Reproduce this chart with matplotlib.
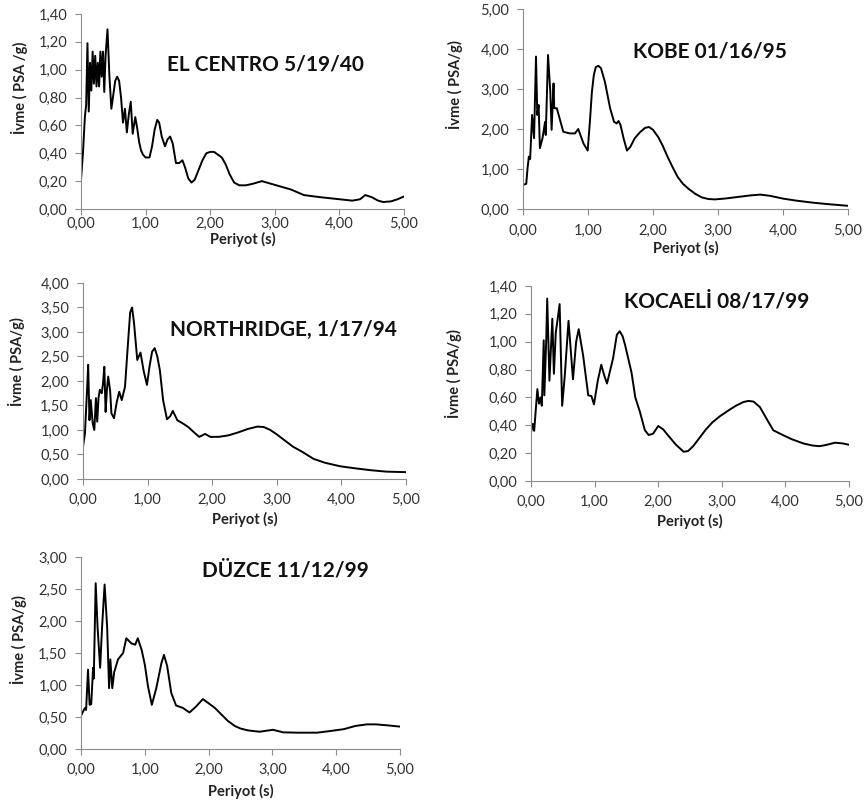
import matplotlib
matplotlib.use("Agg")
import matplotlib.pyplot as plt
from matplotlib.ticker import FuncFormatter, MultipleLocator

plt.rcParams['font.family'] = ['Lato', 'DejaVu Sans']

# El Centro 5/19/40
elc_t = [0.00, 0.03, 0.06, 0.08, 0.10, 0.12, 0.14, 0.16, 0.18, 0.20,
         0.22, 0.24, 0.26, 0.28, 0.30, 0.32, 0.34, 0.36, 0.38, 0.41,
         0.44, 0.47, 0.50, 0.53, 0.56, 0.59, 0.62, 0.65, 0.68, 0.71,
         0.74, 0.77, 0.80, 0.84, 0.87, 0.90, 0.93, 0.96, 1.00, 1.06,
         1.10, 1.14, 1.18, 1.21, 1.25, 1.30, 1.34, 1.38, 1.42, 1.47,
         1.52, 1.57, 1.61, 1.66, 1.71, 1.76, 1.82, 1.88, 1.94, 2.00,
         2.06, 2.12, 2.18, 2.24, 2.30, 2.37, 2.45, 2.55, 2.65, 2.80,
         2.95, 3.10, 3.25, 3.45, 3.70, 4.00, 4.20, 4.32, 4.40, 4.50,
         4.60, 4.68, 4.80, 4.90, 5.00]
elc_a = [0.21, 0.40, 0.66, 0.75, 1.19, 0.70, 1.05, 0.85, 1.13, 0.90,
         1.10, 0.88, 1.05, 0.88, 1.13, 0.95, 1.13, 0.84, 1.10, 1.29,
         0.95, 0.72, 0.82, 0.92, 0.95, 0.92, 0.80, 0.62, 0.72, 0.55,
         0.68, 0.77, 0.54, 0.66, 0.58, 0.48, 0.42, 0.39, 0.37, 0.37,
         0.45, 0.57, 0.64, 0.62, 0.52, 0.45, 0.50, 0.52, 0.47, 0.33,
         0.33, 0.35, 0.30, 0.22, 0.19, 0.21, 0.28, 0.35, 0.40, 0.41,
         0.41, 0.39, 0.37, 0.32, 0.25, 0.19, 0.17, 0.17, 0.18, 0.20,
         0.18, 0.16, 0.14, 0.10, 0.085, 0.07, 0.06, 0.07, 0.10, 0.085,
         0.06, 0.05, 0.055, 0.07, 0.09]

# Kobe 01/16/95
kobe_t = [0.00, 0.05, 0.07, 0.09, 0.11, 0.14, 0.17, 0.20, 0.22, 0.24,
          0.26, 0.30, 0.34, 0.35, 0.385, 0.42, 0.44, 0.47, 0.48, 0.52,
          0.62, 0.72, 0.80, 0.85, 0.93, 0.995, 1.03, 1.06, 1.09, 1.12,
          1.16, 1.20, 1.26, 1.34, 1.40, 1.44, 1.47, 1.50, 1.55, 1.60,
          1.65, 1.72, 1.80, 1.88, 1.94, 2.00, 2.08, 2.15, 2.22, 2.30,
          2.38, 2.46, 2.55, 2.65, 2.75, 2.85, 2.95, 3.10, 3.30, 3.50,
          3.65, 3.80, 4.00, 4.20, 4.45, 4.70, 5.00]
kobe_a = [0.60, 0.63, 1.02, 1.31, 1.25, 2.35, 1.77, 3.81, 2.35, 2.60,
          1.52, 1.77, 2.18, 1.85, 3.85, 2.93, 1.98, 3.14, 2.52, 2.52,
          1.93, 1.89, 1.89, 2.00, 1.64, 1.46, 2.20, 2.93, 3.35, 3.55,
          3.58, 3.52, 3.18, 2.52, 2.18, 2.14, 2.20, 2.10, 1.75, 1.46,
          1.55, 1.77, 1.92, 2.03, 2.05, 1.98, 1.80, 1.58, 1.32, 1.05,
          0.80, 0.63, 0.50, 0.38, 0.29, 0.25, 0.24, 0.26, 0.30, 0.34,
          0.36, 0.33, 0.26, 0.21, 0.16, 0.12, 0.08]

# Northridge 1/17/94
nor_t = [0.00, 0.03, 0.07, 0.08, 0.10, 0.12, 0.15, 0.175, 0.20, 0.22,
         0.24, 0.26, 0.29, 0.31, 0.33, 0.35, 0.37, 0.39, 0.42, 0.44,
         0.48, 0.52, 0.56, 0.60, 0.65, 0.70, 0.73, 0.76, 0.79, 0.84,
         0.89, 0.94, 0.99, 1.03, 1.07, 1.11, 1.15, 1.19, 1.24, 1.30,
         1.35, 1.39, 1.46, 1.55, 1.63, 1.72, 1.80, 1.89, 1.97, 2.10,
         2.25, 2.40, 2.55, 2.70, 2.80, 2.90, 3.00, 3.10, 3.25, 3.40,
         3.57, 3.75, 3.98, 4.20, 4.45, 4.70, 5.00]
nor_a = [0.66, 0.93, 2.02, 2.33, 1.20, 1.61, 1.14, 1.00, 1.65, 1.17,
         1.65, 1.82, 1.75, 1.95, 2.29, 1.37, 1.82, 2.09, 1.80, 1.34,
         1.24, 1.55, 1.78, 1.61, 1.88, 2.84, 3.40, 3.50, 3.18, 2.43,
         2.58, 2.20, 1.92, 2.30, 2.60, 2.67, 2.50, 2.22, 1.61, 1.22,
         1.28, 1.39, 1.20, 1.13, 1.06, 0.95, 0.86, 0.92, 0.86, 0.86,
         0.89, 0.95, 1.02, 1.07, 1.06, 1.00, 0.91, 0.81, 0.66, 0.55,
         0.41, 0.33, 0.26, 0.22, 0.18, 0.15, 0.14]

# Kocaeli 08/17/99
koc_t = [0.00, 0.03, 0.05, 0.10, 0.125, 0.15, 0.17, 0.20, 0.21, 0.24,
         0.255, 0.29, 0.335, 0.36, 0.39, 0.42, 0.45, 0.49, 0.53, 0.59,
         0.66, 0.71, 0.75, 0.82, 0.90, 0.95, 0.99, 1.05, 1.105, 1.15,
         1.195, 1.29, 1.35, 1.395, 1.44, 1.48, 1.58, 1.64, 1.71, 1.79,
         1.85, 1.92, 2.00, 2.08, 2.15, 2.28, 2.40, 2.47, 2.55, 2.65,
         2.75, 2.85, 2.97, 3.10, 3.22, 3.34, 3.42, 3.50, 3.60, 3.70,
         3.81, 3.96, 4.10, 4.28, 4.42, 4.54, 4.65, 4.78, 4.90, 5.00]
koc_a = [0.35, 0.41, 0.36, 0.66, 0.555, 0.60, 0.54, 1.01, 0.615, 1.02,
         1.31, 0.72, 1.165, 0.77, 1.07, 1.165, 1.27, 0.54, 0.75, 1.15,
         0.73, 1.00, 1.09, 0.90, 0.615, 0.61, 0.55, 0.72, 0.835, 0.76,
         0.70, 0.88, 1.05, 1.075, 1.04, 0.975, 0.78, 0.60, 0.50, 0.365,
         0.33, 0.34, 0.395, 0.37, 0.33, 0.26, 0.21, 0.215, 0.25, 0.31,
         0.37, 0.42, 0.465, 0.505, 0.54, 0.567, 0.575, 0.57, 0.53, 0.45,
         0.364, 0.33, 0.30, 0.27, 0.255, 0.25, 0.26, 0.275, 0.27, 0.26]

# Duzce 11/12/99
duz_t = [0.00, 0.06, 0.08, 0.11, 0.135, 0.16, 0.19, 0.20, 0.23, 0.26,
         0.30, 0.33, 0.37, 0.41, 0.44, 0.46, 0.49, 0.52, 0.58, 0.66,
         0.71, 0.79, 0.85, 0.89, 0.95, 1.00, 1.05, 1.11, 1.18, 1.26,
         1.30, 1.35, 1.415, 1.49, 1.60, 1.70, 1.80, 1.91, 2.02, 2.10,
         2.20, 2.30, 2.41, 2.50, 2.62, 2.80, 3.01, 3.17, 3.40, 3.70,
         3.90, 4.12, 4.30, 4.48, 4.62, 4.80, 5.00]
duz_a = [0.52, 0.64, 0.61, 1.24, 0.69, 0.70, 1.27, 1.10, 2.59, 1.90,
         1.27, 1.90, 2.57, 1.90, 0.95, 1.40, 0.95, 1.20, 1.40, 1.50,
         1.73, 1.65, 1.63, 1.73, 1.55, 1.32, 0.98, 0.69, 0.95, 1.34,
         1.47, 1.30, 0.875, 0.68, 0.64, 0.57, 0.66, 0.78, 0.70, 0.64,
         0.54, 0.44, 0.36, 0.32, 0.29, 0.27, 0.30, 0.26, 0.255, 0.255,
         0.28, 0.31, 0.36, 0.385, 0.385, 0.37, 0.35]

panels = [
    # t, a, title, ylabel, ymax, ystep, axes rect (px), title xy,
    # ylabel xy, xlabel y, x tick pad
    (elc_t, elc_a, "EL CENTRO 5/19/40", "İvme ( PSA /g)", 1.4, 0.2,
     (81, 14, 323, 195), (0.57, 0.74), (-0.165, 0.62), -0.118, 2),
    (kobe_t, kobe_a, "KOBE 01/16/95", "İvme ( PSA/g)", 5.0, 1.0,
     (523, 9, 325, 200), (0.575, 0.785), (-0.185, 0.62), -0.16, 7),
    (nor_t, nor_a, "NORTHRIDGE, 1/17/94", "İvme ( PSA/g)", 4.0, 0.5,
     (83, 283, 323, 196), (0.62, 0.76), (-0.18, 0.60), -0.168, 6),
    (koc_t, koc_a, "KOCAELİ 08/17/99", "İvme ( PSA/g)", 1.4, 0.2,
     (531, 286, 318, 195), (0.585, 0.92), (-0.217, 0.55), -0.169, 6),
    (duz_t, duz_a, "DÜZCE 11/12/99", "İvme ( PSA/g)", 3.0, 0.5,
     (81, 557, 319, 192), (0.64, 0.93), (-0.17, 0.57), -0.182, 6),
]

W, H = 864, 805
comma = FuncFormatter(lambda v, p: f"{v:.2f}".replace(".", ","))

fig = plt.figure(figsize=(W / 100, H / 100), dpi=100)

for t, a, title, ylab, ymax, ystep, r, txy, yl, xly, xpad in panels:
    ax = fig.add_axes([r[0] / W, 1 - (r[1] + r[3]) / H, r[2] / W, r[3] / H])
    ax.plot(t, a, color="black", lw=1.4, solid_joinstyle="round")
    ax.set_xlim(0, 5)
    ax.set_ylim(0, ymax)
    ax.xaxis.set_major_locator(MultipleLocator(1.0))
    ax.yaxis.set_major_locator(MultipleLocator(ystep))
    ax.xaxis.set_major_formatter(comma)
    ax.yaxis.set_major_formatter(comma)
    for s in ["top", "right"]:
        ax.spines[s].set_visible(False)
    for s in ["left", "bottom"]:
        ax.spines[s].set_color("#8c8c8c")
    ax.tick_params(direction="out", length=4, color="#8c8c8c",
                   labelsize=10.5, labelcolor="#333333")
    ax.tick_params(axis="y", pad=6)
    ax.tick_params(axis="x", pad=xpad)
    ax.set_xlabel("Periyot (s)", fontsize=10.5, fontweight="bold",
                  color="#222222")
    ax.xaxis.set_label_coords(0.5, xly)
    ax.set_ylabel(ylab, fontsize=10.5, fontweight="bold", color="#222222")
    ax.yaxis.set_label_coords(yl[0], yl[1])
    ax.text(txy[0], txy[1], title, transform=ax.transAxes, ha="center",
            va="center", fontsize=15, fontweight="bold", color="#111111")

fig.savefig("out.png", dpi=100)
